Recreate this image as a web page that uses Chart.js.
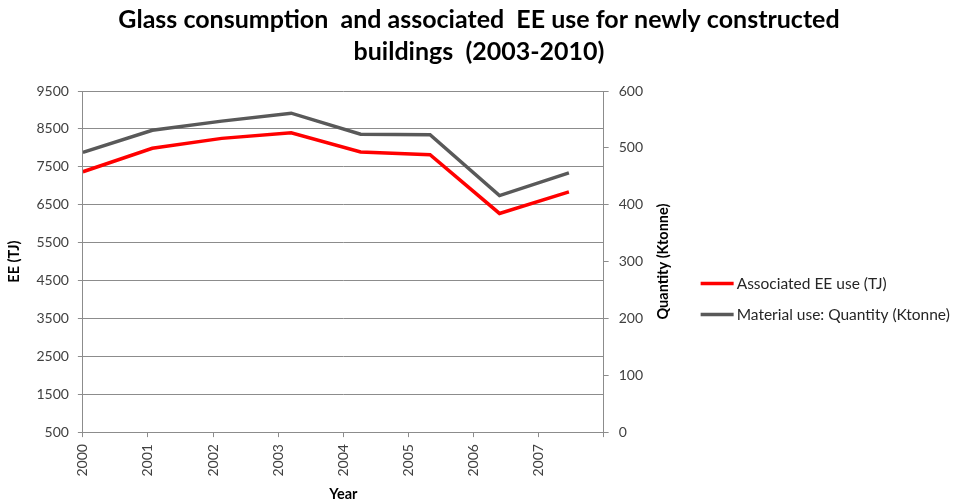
<!DOCTYPE html>
<html>
<head>
<meta charset="utf-8">
<title>Glass consumption and associated EE use</title>
<script src="https://cdn.jsdelivr.net/npm/chart.js@4.4.1/dist/chart.umd.min.js"></script>
<style>
  html, body { margin: 0; padding: 0; background: #ffffff; }
  #wrap { width: 961px; height: 503px; position: relative; }
</style>
</head>
<body>
<div id="wrap"><canvas id="chart" width="961" height="503"></canvas></div>
<script>
// Years on the horizontal axis
const years = ['2000', '2001', '2002', '2003', '2004', '2005', '2006', '2007'];
// Embodied energy of glass used in new buildings (TJ, left axis)
const eeUse = [7370, 7990, 8250, 8400, 7890, 7820, 6270, 6840];
// Glass quantity used (Ktonne, right axis)
const quantity = [492, 531, 547, 561, 524, 523, 416, 456];
// Axis tick values
const eeTicks = [500, 1500, 2500, 3500, 4500, 5500, 6500, 7500, 8500, 9500];
const qtyTicks = [0, 100, 200, 300, 400, 500, 600];
const qtyTitle = 'Quantity (Ktonne)';

const FONT = 'Lato, "Liberation Sans", sans-serif';
const AXIS_GREY = '#8c8c8c';
const TICK_TEXT = '#404040';
const AXIS_TITLE_SIZE = 14.5;

// Points sit at whole-number positions; the year labels are spread across the full width
const xMax = 7.5;
const toPoints = arr => arr.map((v, i) => ({ x: i, y: v }));

// Right-hand extras: an upward-reading title for the quantity axis and a line legend
const sideDecor = {
  id: 'sideDecor',
  afterDraw(chart, args, opts) {
    const { ctx, chartArea } = chart;
    const midY = (chartArea.top + chartArea.bottom) / 2;
    ctx.save();
    // quantity axis title
    ctx.translate(chartArea.right + opts.titleOffset, midY);
    ctx.rotate(-Math.PI / 2);
    ctx.font = 'bold ' + AXIS_TITLE_SIZE + 'px ' + FONT;
    ctx.fillStyle = '#000000';
    ctx.textAlign = 'center';
    ctx.textBaseline = 'middle';
    ctx.fillText(qtyTitle, 0, 0);
    ctx.restore();

    // legend
    ctx.save();
    ctx.font = '15.5px ' + FONT;
    ctx.textBaseline = 'middle';
    ctx.textAlign = 'left';
    chart.data.datasets.forEach((ds, i) => {
      const y = midY + opts.legendTop + i * opts.legendGap;
      const x0 = chartArea.right + opts.legendOffset;
      ctx.strokeStyle = ds.borderColor;
      ctx.lineWidth = ds.borderWidth;
      ctx.beginPath();
      ctx.moveTo(x0, y);
      ctx.lineTo(x0 + opts.swatch, y);
      ctx.stroke();
      ctx.fillStyle = '#262626';
      ctx.fillText(ds.label, x0 + opts.swatch + 3, y);
    });
    ctx.restore();
  }
};

new Chart(document.getElementById('chart'), {
  type: 'line',
  data: {
    datasets: [
      {
        label: 'Associated EE use (TJ)',
        data: toPoints(eeUse),
        borderColor: '#ff0000',
        backgroundColor: '#ff0000',
        borderWidth: 3.5,
        pointRadius: 0,
        tension: 0,
        yAxisID: 'yEE'
      },
      {
        label: 'Material use: Quantity (Ktonne)',
        data: toPoints(quantity),
        borderColor: '#595959',
        backgroundColor: '#595959',
        borderWidth: 3.5,
        pointRadius: 0,
        tension: 0,
        yAxisID: 'yQty'
      }
    ]
  },
  plugins: [sideDecor],
  options: {
    responsive: false,
    animation: false,
    events: [],
    layout: { padding: { left: 2, right: 5, top: 4, bottom: 0 } },
    plugins: {
      title: {
        display: true,
        text: ['Glass consumption  and associated  EE use for newly constructed', 'buildings  (2003-2010)'],
        color: '#000000',
        font: { family: FONT, size: 25, weight: 'bold', lineHeight: 1.28 },
        padding: { top: 0, bottom: 23 }
      },
      legend: { display: false },
      tooltip: { enabled: false },
      sideDecor: { titleOffset: 60, legendOffset: 97, legendTop: 22, legendGap: 31, swatch: 33 }
    },
    scales: {
      x: {
        type: 'linear',
        min: 0,
        max: xMax,
        afterBuildTicks: axis => {
          axis.ticks = years.map((y, i) => ({ value: i * xMax / years.length }));
          axis.ticks.push({ value: xMax });
        },
        ticks: {
          autoSkip: false,
          maxRotation: 90,
          minRotation: 90,
          padding: 7,
          color: TICK_TEXT,
          font: { family: FONT, size: 14 },
          callback: (v, i) => years[i] ?? ''
        },
        grid: { drawOnChartArea: false, drawTicks: true, tickLength: 5, color: AXIS_GREY },
        border: { display: true, color: AXIS_GREY, width: 1 },
        title: {
          display: true,
          text: 'Year',
          color: '#000000',
          font: { family: FONT, size: AXIS_TITLE_SIZE, weight: 'bold' },
          padding: { top: 2, bottom: 0 }
        }
      },
      yEE: {
        type: 'linear',
        position: 'left',
        min: 500,
        max: 9500,
        afterBuildTicks: axis => { axis.ticks = eeTicks.map(v => ({ value: v })); },
        ticks: {
          padding: 9,
          color: TICK_TEXT,
          font: { family: FONT, size: 14 },
          callback: v => String(v)
        },
        grid: { color: AXIS_GREY, lineWidth: 1, drawTicks: true, tickLength: 5 },
        border: { display: true, color: AXIS_GREY, width: 1 },
        title: {
          display: true,
          text: 'EE (TJ)',
          color: '#000000',
          font: { family: FONT, size: AXIS_TITLE_SIZE, weight: 'bold' },
          padding: { top: 4, bottom: 4 }
        }
      },
      yQty: {
        type: 'linear',
        position: 'right',
        min: 0,
        max: 600,
        afterBuildTicks: axis => { axis.ticks = qtyTicks.map(v => ({ value: v })); },
        ticks: {
          padding: 10,
          color: TICK_TEXT,
          font: { family: FONT, size: 14 },
          callback: v => String(v)
        },
        grid: { drawOnChartArea: false, drawTicks: true, tickLength: 5, color: AXIS_GREY },
        border: { display: true, color: AXIS_GREY, width: 1 },
        // room for the axis title and the legend to the right of the tick labels
        afterFit: scale => { scale.width += 303; }
      }
    }
  }
});
</script>
</body>
</html>
